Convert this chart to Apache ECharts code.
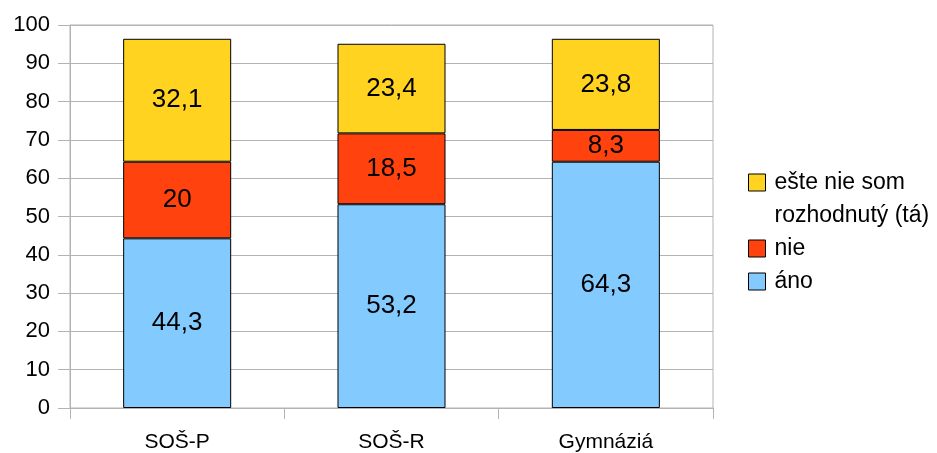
<!DOCTYPE html>
<html>
<head>
<meta charset="utf-8">
<script src="https://cdn.jsdelivr.net/npm/echarts@6/dist/echarts.min.js"></script>
<style>html,body{margin:0;padding:0;background:#fff}#c{width:937px;height:453px}</style>
</head>
<body>
<div id="c"></div>
<script>
const categories = ['SOŠ-P', 'SOŠ-R', 'Gymnáziá'];
const anoValues = [44.3, 53.2, 64.3];
const nieValues = [20, 18.5, 8.3];
const esteValues = [32.1, 23.4, 23.8];
const seriesNames = ['áno', 'nie', 'ešte nie som rozhodnutý (tá)'];
const legendLabels = ['áno', 'nie', '\nešte nie som\nrozhodnutý (tá)'];
const yTicks = [0, 10, 20, 30, 40, 50, 60, 70, 80, 90, 100];

const FONT = '"Liberation Sans", Arial, sans-serif';
const colors = ['#83CAFF', '#FF420E', '#FFD320'];
const valuesList = [anoValues, nieValues, esteValues];

const chart = echarts.init(document.getElementById('c'), null, {renderer: 'canvas'});
const series = seriesNames.map((name, i) => ({
  name: name,
  type: 'bar',
  stack: 'total',
  barWidth: '50.4%',
  data: valuesList[i],
  itemStyle: {color: colors[i], borderColor: '#000', borderWidth: 1},
  label: {
    show: true,
    position: 'inside',
    color: '#000',
    fontSize: 26,
    fontFamily: FONT,
    formatter: p => String(p.value).replace('.', ',')
  },
  emphasis: {disabled: true}
}));

chart.setOption({
  animation: false,
  textStyle: {fontFamily: FONT},
  grid: {left: 70, right: 224, top: 25, bottom: 45, show: true, borderColor: '#b3b3b3', borderWidth: 1},
  legend: {
    orient: 'vertical',
    left: 743,
    top: 128,
    itemWidth: 17,
    itemHeight: 17,
    itemGap: 0,
    icon: 'rect',
    selectedMode: false,
    itemStyle: {borderColor: '#000', borderWidth: 1},
    textStyle: {fontSize: 23, color: '#000', fontFamily: FONT, lineHeight: 33, padding: [0, 0, 0, 4]},
    formatter: name => legendLabels[seriesNames.indexOf(name)],
    data: [seriesNames[2], seriesNames[1], seriesNames[0]]
  },
  xAxis: {
    type: 'category',
    data: categories,
    axisLine: {lineStyle: {color: '#b3b3b3'}},
    axisTick: {show: true, length: 11, lineStyle: {color: '#b3b3b3'}},
    axisLabel: {color: '#000', fontSize: 21, fontFamily: FONT, margin: 24}
  },
  yAxis: {
    type: 'value',
    min: yTicks[0],
    max: yTicks[yTicks.length - 1],
    interval: yTicks[1] - yTicks[0],
    axisLine: {show: true, lineStyle: {color: '#b3b3b3'}},
    axisTick: {show: true, length: 12, lineStyle: {color: '#b3b3b3'}},
    splitLine: {show: true, lineStyle: {color: '#b3b3b3'}},
    axisLabel: {color: '#000', fontSize: 22, fontFamily: FONT, margin: 20}
  },
  series: series
});
</script>
</body>
</html>
